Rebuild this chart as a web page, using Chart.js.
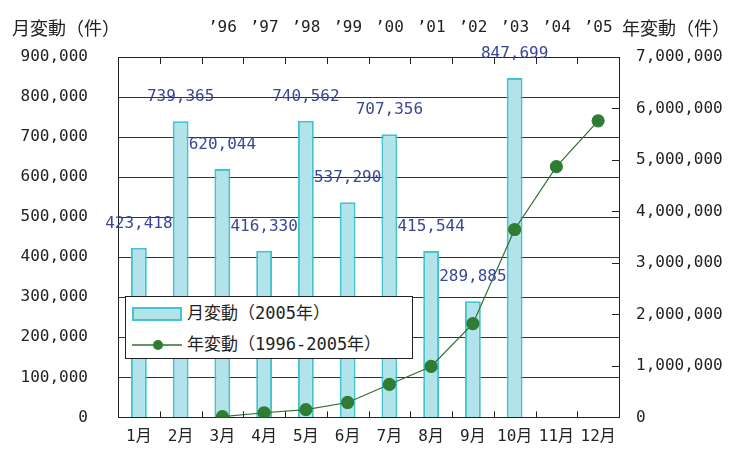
<!DOCTYPE html>
<html>
<head>
<meta charset="utf-8">
<script src="https://cdn.jsdelivr.net/npm/chart.js@4/dist/chart.umd.min.js"></script>
<style>
  body { margin: 0; background: #fff; }
  #wrap { position: relative; width: 741px; height: 457px; }
  .ttl { position: absolute; top: 16px; font: 18px "Noto Sans CJK JP"; color: #222; line-height: 22px; }
  #legend { position: absolute; left: 125px; top: 296px; width: 286px; height: 61px;
    border: 1px solid #222; background: #fff; font: 17px "DejaVu Sans Mono", "Noto Sans CJK JP"; color: #222; }
  #legend .row { position: absolute; left: 6px; height: 22px; line-height: 22px; white-space: nowrap; }
  #legend .sw { display: inline-block; width: 50px; height: 14px; vertical-align: middle; margin-right: 5px; }
  #legend .bar { box-sizing: border-box; border: 2px solid #45c3cc; background: #b3e3ea; }
</style>
</head>
<body>
<div id="wrap">
  <canvas id="myChart" width="741" height="457"></canvas>
  <div class="ttl" style="left:12px">月変動（件）</div>
  <div class="ttl" style="left:622px">年変動（件）</div>
  <div id="legend">
    <div class="row" style="top:5px"><span class="sw bar"></span>月変動（2005年）</div>
    <div class="row" style="top:36px"><svg class="sw" viewBox="0 0 50 14"><line x1="0" y1="7" x2="50" y2="7" stroke="#2e7030" stroke-width="1.5"/><circle cx="26" cy="7" r="5" fill="#2e7d32"/></svg>年変動（1996-2005年）</div>
  </div>
</div>
<script>
const months = ['1月', '2月', '3月', '4月', '5月', '6月', '7月', '8月', '9月', '10月', '11月', '12月']
const yearLabels = ['', '', '’96', '’97', '’98', '’99', '’00', '’01', '’02', '’03', '’04', '’05']

// monthly figures for 2005 (left axis)
const monthly = [423418, 739365, 620044, 416330, 740562, 537290, 707356, 415544, 289885, 847699, null, null]
// yearly totals 1996-2005 (right axis)
const yearly = [null, null, 15000, 90000, 150000, 290000, 640000, 990000, 1820000, 3650000, 4870000, 5760000]

const leftMax = 900000
const leftStep = 100000
const rightMax = 7000000
const rightStep = 1000000

const monoFont = { family: '"DejaVu Sans Mono", "Noto Sans CJK JP"', size: 16 }
const fmt = v => Number(v).toLocaleString('en-US')

// numbers above the bars
const barLabels = {
  id: 'barLabels',
  afterDatasetsDraw(chart) {
    const ctx = chart.ctx
    const meta = chart.getDatasetMeta(1)
    ctx.save()
    ctx.font = '16px "DejaVu Sans Mono"'
    ctx.fillStyle = '#3a4796'
    ctx.textAlign = 'center'
    ctx.textBaseline = 'middle'
    meta.data.forEach((bar, i) => {
      if (monthly[i] == null) return
      ctx.fillText(fmt(monthly[i]), bar.x, bar.y - 24)
    })
    ctx.restore()
  }
}

// small tick marks drawn inside the frame
const innerTicks = {
  id: 'innerTicks',
  afterDatasetsDraw(chart) {
    const { ctx, chartArea: a, scales } = chart
    ctx.save()
    ctx.strokeStyle = '#222'
    ctx.lineWidth = 1
    ctx.beginPath()
    const w = (a.right - a.left) / months.length
    for (let i = 1; i < months.length; i++) {
      const px = Math.round(a.left + i * w) + 0.5
      ctx.moveTo(px, a.top); ctx.lineTo(px, a.top + 7)
      ctx.moveTo(px, a.bottom); ctx.lineTo(px, a.bottom - 6)
    }
    scales.y2.ticks.forEach(t => {
      const py = Math.round(scales.y2.getPixelForValue(t.value)) + 0.5
      ctx.moveTo(a.right - 7, py); ctx.lineTo(a.right, py)
    })
    ctx.stroke()
    ctx.restore()
  }
}

const ctx = document.getElementById('myChart')
new Chart(ctx, {
  type: 'bar',
  data: {
    labels: months,
    datasets: [{
      type: 'line',
      label: '年変動（1996-2005年）',
      data: yearly,
      yAxisID: 'y2',
      borderColor: '#2e7030',
      borderWidth: 1.2,
      pointRadius: 6,
      pointBackgroundColor: '#2e7d32',
      pointBorderColor: '#2e7d32',
      tension: 0,
      order: 0
    }, {
      label: '月変動（2005年）',
      data: monthly,
      yAxisID: 'y',
      backgroundColor: '#b3e3ea',
      borderColor: '#45c3cc',
      borderWidth: 2,
      categoryPercentage: 1,
      barPercentage: 0.38,
      order: 1
    }]
  },
  options: {
    responsive: false,
    animation: false,
    layout: { padding: 0 },
    plugins: { legend: { display: false }, tooltip: { enabled: false } },
    scales: {
      x: {
        position: 'bottom',
        grid: { drawOnChartArea: false, drawTicks: false },
        border: { color: '#222' },
        ticks: { font: monoFont, color: '#222', padding: 10, maxRotation: 0, autoSkip: false },
        afterFit: s => { s.height = 39 }
      },
      x2: {
        type: 'category',
        labels: yearLabels,
        position: 'top',
        offset: true,
        grid: { drawOnChartArea: false, drawTicks: false },
        border: { color: '#222' },
        ticks: { font: monoFont, color: '#222', padding: 20, maxRotation: 0, autoSkip: false },
        afterFit: s => { s.height = 57 }
      },
      y: {
        position: 'left',
        min: 0,
        max: leftMax,
        grid: { color: '#333', drawTicks: false },
        border: { color: '#222' },
        ticks: { stepSize: leftStep, font: monoFont, color: '#222', padding: 30, callback: fmt },
        afterFit: s => { s.width = 118 }
      },
      y2: {
        position: 'right',
        min: 0,
        max: rightMax,
        grid: { drawOnChartArea: false, drawTicks: false },
        border: { color: '#222' },
        ticks: { stepSize: rightStep, font: monoFont, color: '#222', padding: 17, callback: fmt },
        afterFit: s => { s.width = 122 }
      }
    }
  },
  plugins: [barLabels, innerTicks]
})
</script>
</body>
</html>
